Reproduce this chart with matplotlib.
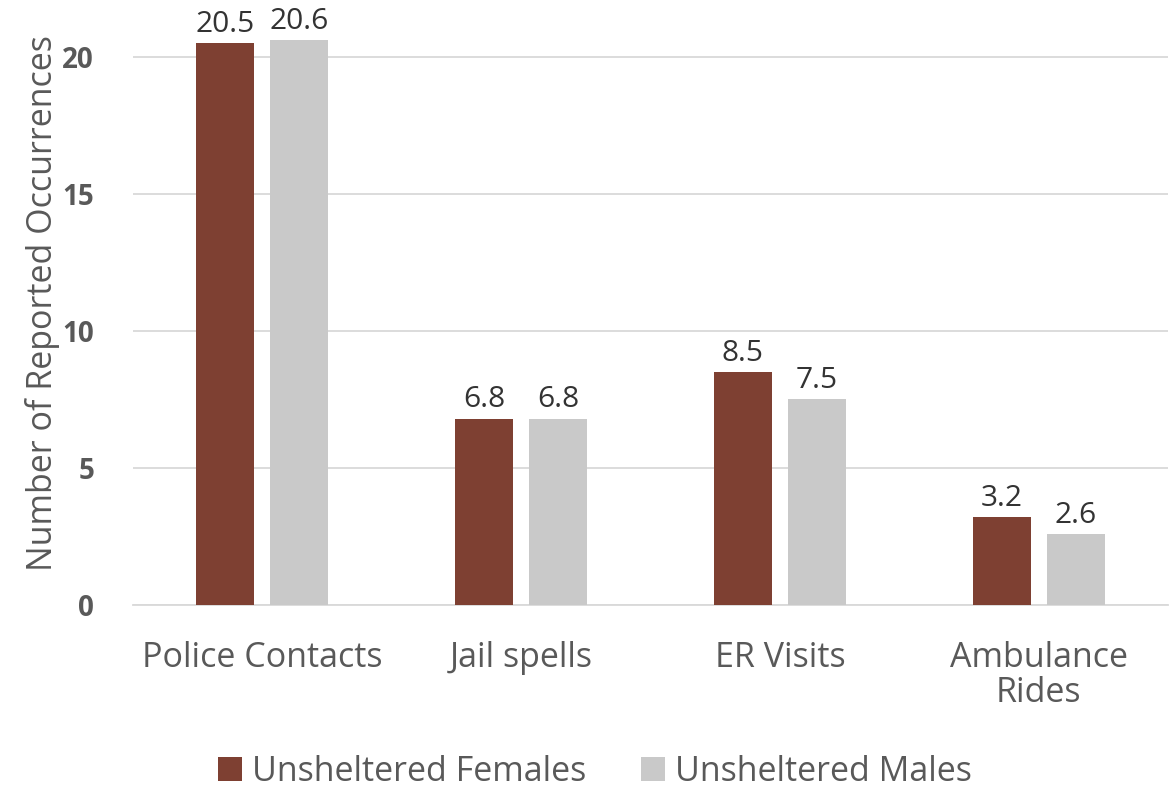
import matplotlib as mpl
mpl.use('Agg')
import matplotlib.pyplot as plt
import numpy as np

categories = ["Police Contacts", "Jail spells", "ER Visits", "Ambulance\nRides"]
females = [20.5, 6.8, 8.5, 3.2]
males = [20.6, 6.8, 7.5, 2.6]
series_names = ["Unsheltered Females", "Unsheltered Males"]
yticks = [0, 5, 10, 15, 20]

BROWN = "#7E4032"
GREY = "#C9C9C9"
TEXT = "#595959"

plt.rcParams['font.family'] = ['Open Sans', 'DejaVu Sans']


def main():
    fig = plt.figure(figsize=(11.74, 7.89), dpi=100)
    ax = fig.add_axes([133 / 1174, 1 - 605 / 789, (1168 - 133) / 1174, 603 / 789])

    x = np.arange(len(categories))
    w = 0.225
    off = 0.143
    b1 = ax.bar(x - off, females, w, color=BROWN, label=series_names[0], zorder=3)
    b2 = ax.bar(x + off, males, w, color=GREY, label=series_names[1], zorder=3)

    for bars in (b1, b2):
        ax.bar_label(bars, labels=[f"{v:.1f}" for v in bars.datavalues],
                     padding=3, fontsize=21.5, color="#333333")

    ax.set_xlim(-0.5, len(categories) - 0.5)
    ax.set_ylim(0, 22)
    ax.set_yticks(yticks)
    ax.set_yticklabels([str(t) for t in yticks], fontsize=20, fontweight="bold", color=TEXT)
    ax.set_xticks(x)
    ax.set_xticklabels(categories, fontsize=24.5, color=TEXT, linespacing=1.05)
    ax.tick_params(axis='both', length=0)
    ax.tick_params(axis='y', pad=28)
    ax.tick_params(axis='x', pad=26)
    ax.grid(axis='y', color="#D9D9D9", linewidth=1.3, zorder=0)
    for s in ["top", "right", "left"]:
        ax.spines[s].set_visible(False)
    ax.spines["bottom"].set_color("#D9D9D9")
    ax.spines["bottom"].set_linewidth(1.3)

    ax.set_ylabel("Number of Reported Occurrences", fontsize=24.5, color=TEXT, labelpad=2)

    fig.legend(handles=[b1, b2], labels=series_names, loc="center",
               bbox_to_anchor=(595 / 1174, 1 - 772 / 789), ncol=2, frameon=False,
               fontsize=24.5, labelcolor=TEXT, handlelength=0.7, handleheight=0.7,
               handletextpad=0.3, columnspacing=1.6)

    fig.savefig("out.png", dpi=100)


if __name__ == '__main__':
    main()
